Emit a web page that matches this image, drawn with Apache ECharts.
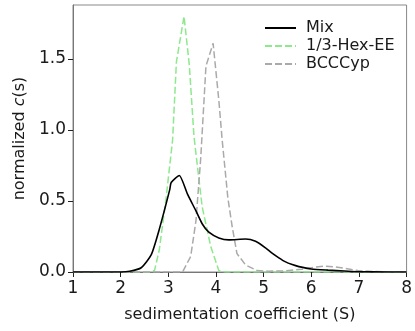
<!DOCTYPE html>
<html>
<head>
<meta charset="utf-8">
<script src="https://cdn.jsdelivr.net/npm/echarts@6/dist/echarts.min.js"></script>
<style>
  html, body { margin: 0; padding: 0; background: #fff; }
  #chart { width: 415px; height: 331px; }
</style>
</head>
<body>
<div id="chart"></div>
<script>
// values (sedimentation coefficient S, normalized c(s))
const mixS = [1.0, 2.0, 2.19, 2.43, 2.64, 2.81, 3.03, 3.06, 3.23, 3.40, 3.58, 3.71, 3.85, 4.06, 4.27, 4.62, 4.83, 5.04, 5.17, 5.32, 5.45, 5.60, 5.74, 6.0, 6.35, 6.70, 6.98, 7.3, 8.0];
const mixC = [0, 0, 0.005, 0.03, 0.12, 0.30, 0.58, 0.63, 0.68, 0.55, 0.43, 0.34, 0.28, 0.24, 0.226, 0.232, 0.216, 0.17, 0.135, 0.10, 0.073, 0.052, 0.038, 0.021, 0.013, 0.007, 0.002, 0.001, 0];

const hexS = [1.0, 2.6, 2.71, 2.81, 2.95, 3.09, 3.17, 3.33, 3.44, 3.54, 3.71, 3.89, 4.06, 4.2, 8.0];
const hexC = [0, 0, 0.01, 0.155, 0.51, 0.93, 1.48, 1.80, 1.46, 0.95, 0.46, 0.18, 0.01, 0, 0];

const bcS = [1.0, 3.30, 3.47, 3.58, 3.68, 3.79, 3.94, 4.06, 4.13, 4.25, 4.34, 4.44, 4.62, 4.86, 5.1, 5.45, 5.8, 6.0, 6.15, 6.28, 6.5, 6.7, 6.98, 7.3, 8.0];
const bcC = [0, 0, 0.11, 0.36, 0.80, 1.45, 1.61, 1.21, 0.93, 0.52, 0.32, 0.13, 0.05, 0.01, 0.006, 0.008, 0.02, 0.03, 0.037, 0.042, 0.036, 0.026, 0.01, 0.003, 0];

const xTicks = [1, 2, 3, 4, 5, 6, 7, 8];
const yTicks = [0, 0.5, 1.0, 1.5];

const zip = (xs, ys) => xs.map((x, i) => [x, ys[i]]);

const chart = echarts.init(document.getElementById('chart'));
const font = 'DejaVu Sans, sans-serif';
const textColor = '#1a1a1a';

chart.setOption({
  animation: false,
  grid: {
    left: 73, right: 6, top: 5, bottom: 59,
    show: true, borderColor: '#888', borderWidth: 1
  },
  legend: {
    orient: 'vertical',
    left: 259,
    top: 15,
    itemWidth: 31,
    itemHeight: 16,
    itemGap: 2,
    itemStyle: { opacity: 0 },
    textStyle: { fontFamily: font, fontSize: 16, color: textColor, padding: [0, 0, 0, 5] },
    data: ['Mix', '1/3-Hex-EE', 'BCCCyp']
  },
  xAxis: {
    type: 'value',
    min: 1, max: 8, interval: 1,
    name: 'sedimentation coefficient (S)',
    nameLocation: 'middle',
    nameGap: 35,
    nameTextStyle: { fontFamily: font, fontSize: 16, color: textColor },
    axisLine: { show: true, lineStyle: { color: '#777', width: 1 } },
    axisTick: { show: true, length: 5, lineStyle: { color: '#222' }, customValues: xTicks },
    axisLabel: { fontFamily: font, fontSize: 17, color: textColor, margin: 8, customValues: xTicks },
    splitLine: { show: false }
  },
  yAxis: {
    type: 'value',
    min: 0, max: 1.88,
    name: '{n|normalized }{i|c}{n|(s)}',
    nameLocation: 'middle',
    nameGap: 42,
    nameTextStyle: {
      fontFamily: font, fontSize: 16, color: textColor,
      rich: {
        n: { fontFamily: font, fontSize: 16, color: textColor },
        i: { fontFamily: font, fontSize: 16, color: textColor, fontStyle: 'italic' }
      }
    },
    axisLine: { show: true, lineStyle: { color: '#777', width: 1 } },
    axisTick: { show: true, length: 5, lineStyle: { color: '#222' }, customValues: yTicks },
    axisLabel: {
      fontFamily: font, fontSize: 17, color: textColor, margin: 7,
      customValues: yTicks,
      formatter: (v) => v.toFixed(1)
    },
    splitLine: { show: false }
  },
  series: [
    {
      name: 'Mix', type: 'line', data: zip(mixS, mixC),
      showSymbol: false, symbol: 'none', smooth: 0.2,
      lineStyle: { color: '#000', width: 1.6 },
      itemStyle: { color: '#000' }, z: 5
    },
    {
      name: '1/3-Hex-EE', type: 'line', data: zip(hexS, hexC),
      showSymbol: false, symbol: 'none',
      lineStyle: { color: '#8ee88e', width: 1.5, type: [7, 3] },
      itemStyle: { color: '#8ee88e' }, z: 3
    },
    {
      name: 'BCCCyp', type: 'line', data: zip(bcS, bcC),
      showSymbol: false, symbol: 'none',
      lineStyle: { color: '#aaaaaa', width: 1.5, type: [7, 3] },
      itemStyle: { color: '#aaaaaa' }, z: 4
    }
  ]
});
</script>
</body>
</html>
